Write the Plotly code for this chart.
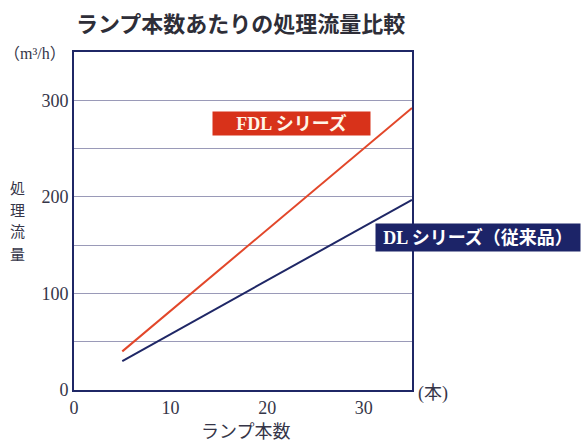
import plotly.graph_objects as go

lamps = [5, 35]
fdl_flow = [40, 292]
dl_flow = [30, 197]
x_ticks = [0, 10, 20, 30]
y_ticks = [0, 100, 200, 300]
title_text = "ランプ本数あたりの処理流量比較"
y_label_chars = ["処", "理", "流", "量"]
fdl_name = "FDL シリーズ"
dl_name = "DL シリーズ（従来品）"

NAVY = "#1f2766"
RED = "#e2472a"
SERIF = "Liberation Serif, Noto Sans CJK JP"
CJK = "Noto Sans CJK JP"
TXT = "#353548"

fig = go.Figure()
fig.add_trace(go.Scatter(x=lamps, y=fdl_flow, mode="lines",
                         line=dict(color=RED, width=2), name=fdl_name, showlegend=False))
fig.add_trace(go.Scatter(x=lamps, y=dl_flow, mode="lines",
                         line=dict(color=NAVY, width=2), name=dl_name, showlegend=False))

L, R, T, B = 74, 174, 52, 54
W, H = 586, 444
pw, ph = W - L - R, H - T - B

def px(X):
    return (X - L) / pw

def py(Y):
    return (H - B - Y) / ph

annots = [
    dict(text="<b>" + title_text + "</b>", x=px(240), y=py(22), xref="paper", yref="paper",
         showarrow=False, font=dict(family=CJK, size=22, color="#2e2e38"),
         xanchor="center", yanchor="middle"),
    dict(text="（m³/h）", x=px(35), y=py(53), xref="paper", yref="paper",
         showarrow=False, font=dict(family=SERIF, size=16, color=TXT),
         xanchor="center", yanchor="middle"),
    dict(text="ランプ本数", x=px(245), y=py(430), xref="paper", yref="paper",
         showarrow=False, font=dict(family=CJK, size=18, color=TXT),
         xanchor="center", yanchor="middle"),
    dict(text="(本)", x=px(433), y=py(393), xref="paper", yref="paper",
         showarrow=False, font=dict(family=SERIF, size=18, color=TXT),
         xanchor="center", yanchor="middle"),
    dict(text="<b>" + fdl_name + "</b>", x=px(291.5), y=py(123.5), xref="paper", yref="paper",
         showarrow=False, font=dict(family=SERIF, size=18, color="#fff6e8"),
         bgcolor="#d8321a", width=157, height=23, borderpad=0,
         xanchor="center", yanchor="middle"),
    dict(text="<b>" + dl_name + "</b>", x=px(478), y=py(237.5), xref="paper", yref="paper",
         showarrow=False, font=dict(family=SERIF, size=18, color="#ffffff"),
         bgcolor="#1c2468", width=204, height=27, borderpad=0,
         xanchor="center", yanchor="middle"),
]
for i, ch in enumerate(y_label_chars):
    annots.append(dict(text=ch, x=px(18), y=py(187 + 22 * i), xref="paper", yref="paper",
                       showarrow=False, font=dict(family=CJK, size=15, color=TXT),
                       xanchor="center", yanchor="middle"))

fig.update_layout(
    width=W, height=H,
    margin=dict(l=L, r=R, t=T, b=B),
    paper_bgcolor="white", plot_bgcolor="white",
    xaxis=dict(range=[0, 35], tickvals=x_ticks, showgrid=False, zeroline=False,
               showline=True, mirror=True, linecolor=NAVY, linewidth=2,
               ticks="", tickfont=dict(family=SERIF, size=18, color=TXT)),
    yaxis=dict(range=[0, 350], tickvals=y_ticks, showgrid=True, gridcolor="#9a9ab8",
               gridwidth=1, zeroline=False,
               minor=dict(dtick=50, showgrid=True, gridcolor="#9a9ab8", gridwidth=1),
               showline=True, mirror=True, linecolor=NAVY, linewidth=2,
               ticks="", tickfont=dict(family=SERIF, size=18, color=TXT)),
    annotations=annots,
)

fig.write_html("out.html")
